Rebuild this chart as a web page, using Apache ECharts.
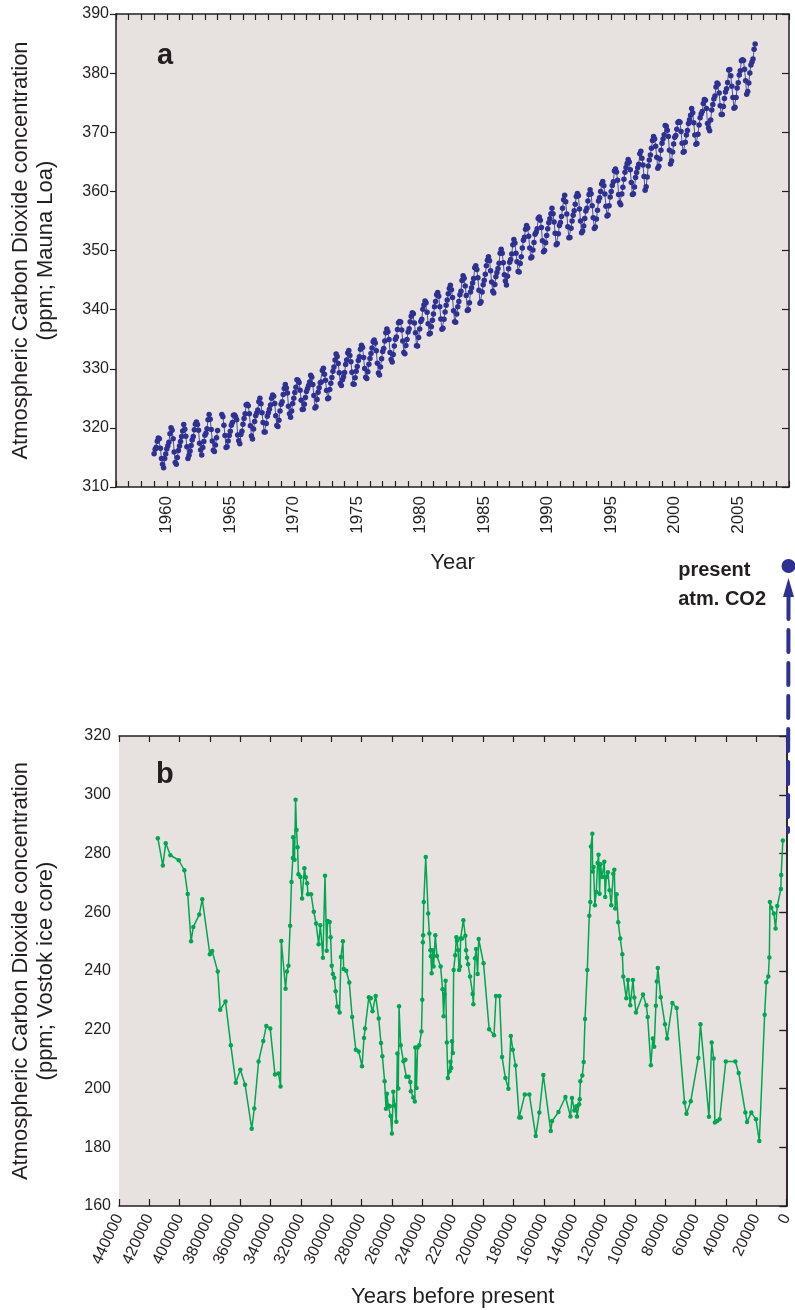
<!DOCTYPE html>
<html>
<head>
<meta charset="utf-8">
<script src="https://cdn.jsdelivr.net/npm/echarts@6/dist/echarts.min.js"></script>
<style>
  html, body { margin: 0; padding: 0; background: #fff; }
  #view { width: 795px; height: 1310px; }
</style>
</head>
<body>
<div id="view"></div>
<script>
// Mauna Loa monthly CO2 (ppm), one row per year, Jan..Dec, starting 1959
var mlStartYear = 1959;
var mlMonthly = [
  [315.62, 316.38, 316.71, 317.72, 318.29, 318.15, 316.54, 314.80, 313.84, 313.26, 314.80, 315.58],
  [316.43, 316.97, 317.58, 319.02, 320.03, 319.59, 318.18, 315.91, 314.16, 313.83, 315.00, 316.19],
  [316.93, 317.70, 318.54, 319.48, 320.58, 319.77, 318.57, 316.79, 314.80, 315.38, 316.10, 317.01],
  [317.94, 318.56, 319.68, 320.63, 321.01, 320.55, 319.58, 317.40, 316.26, 315.42, 316.69, 317.69],
  [318.74, 319.08, 319.86, 321.39, 322.25, 321.47, 319.74, 317.77, 316.21, 315.99, 317.12, 318.31],
  [319.57, null, null, null, 322.25, 321.89, 320.44, 318.70, 316.70, 316.79, 317.79, 318.71],
  [319.44, 320.44, 320.89, 322.13, 322.16, 321.87, 321.39, 318.81, 317.81, 317.30, 318.87, 319.42],
  [320.62, 321.59, 322.39, 323.87, 324.01, 323.75, 322.39, 320.37, 318.64, 318.10, 319.79, 321.08],
  [322.07, 322.50, 323.04, 324.42, 325.00, 324.09, 322.55, 320.92, 319.31, 319.31, 320.72, 321.96],
  [322.57, 323.15, 323.89, 325.02, 325.57, 325.36, 324.14, 322.03, 320.41, 320.25, 321.31, 322.84],
  [324.00, 324.42, 325.64, 326.66, 327.34, 326.76, 325.88, 323.67, 322.38, 321.78, 322.85, 324.11],
  [325.03, 325.99, 326.87, 328.13, 328.07, 327.66, 326.35, 324.69, 323.10, 323.16, 323.98, 325.13],
  [326.17, 326.68, 327.18, 327.78, 328.92, 328.57, 327.34, 325.46, 323.36, 323.57, 324.80, 326.01],
  [326.77, 327.63, 327.75, 329.72, 330.07, 329.09, 328.05, 326.32, 324.93, 325.06, 326.50, 327.55],
  [328.54, 329.56, 330.30, 331.50, 332.48, 332.07, 330.87, 329.31, 327.51, 327.18, 328.16, 328.64],
  [329.35, 330.71, 331.48, 332.65, 333.09, 332.25, 331.18, 329.40, 327.43, 327.37, 328.46, 329.57],
  [330.40, 331.40, 332.04, 333.31, 333.96, 333.59, 331.91, 330.06, 328.56, 328.34, 329.49, 330.76],
  [331.75, 332.56, 333.50, 334.58, 334.87, 334.34, 333.05, 330.94, 329.30, 328.94, 330.31, 331.68],
  [332.93, 333.42, 334.70, 336.07, 336.74, 336.27, 334.93, 332.75, 331.58, 331.16, 332.40, 333.85],
  [334.97, 335.39, 336.64, 337.76, 338.01, 337.89, 336.54, 334.68, 332.76, 332.54, 333.92, 334.95],
  [336.23, 336.76, 337.96, 338.89, 339.47, 339.29, 337.73, 336.09, 333.91, 333.86, 335.29, 336.73],
  [338.01, 338.36, 340.08, 340.77, 341.46, 341.17, 339.56, 337.60, 335.88, 336.01, 337.10, 338.21],
  [339.24, 340.48, 341.38, 342.51, 342.91, 342.25, 340.49, 338.43, 336.69, 336.85, 338.36, 339.61],
  [340.75, 341.61, 342.70, 343.56, 344.13, 343.35, 342.06, 339.82, 337.97, 337.86, 339.26, 340.49],
  [341.38, 342.52, 343.10, 344.94, 345.75, 345.32, 343.99, 342.39, 339.86, 339.99, 341.16, 342.99],
  [343.70, 344.51, 345.28, 347.08, 347.43, 346.79, 345.40, 343.28, 341.07, 341.35, 342.98, 344.22],
  [344.97, 346.00, 347.43, 348.35, 348.93, 348.25, 346.56, 344.69, 343.09, 342.80, 344.24, 345.56],
  [346.29, 346.96, 347.86, 349.55, 350.21, 349.54, 347.94, 345.91, 344.86, 344.17, 345.66, 346.90],
  [348.02, 348.47, 349.42, 350.99, 351.84, 351.25, 349.52, 348.10, 346.44, 346.36, 347.81, 348.96],
  [350.43, 351.72, 352.22, 353.59, 354.22, 353.79, 352.39, 350.44, 348.72, 348.88, 350.07, 351.34],
  [352.76, 353.07, 353.68, 355.42, 355.67, 355.13, 353.90, 351.67, 349.80, 349.99, 351.30, 352.53],
  [353.66, 354.70, 355.39, 356.20, 357.16, 356.22, 354.82, 352.91, 350.96, 351.18, 352.83, 354.21],
  [354.72, 355.75, 357.16, 358.60, 359.34, 358.24, 356.17, 354.03, 352.16, 352.21, 353.75, 354.99],
  [355.98, 356.72, 357.81, 359.15, 359.66, 359.25, 357.02, 355.00, 353.01, 353.31, 354.16, 355.40],
  [356.70, 357.16, 358.38, 359.46, 360.28, 359.60, 357.57, 355.52, 353.70, 353.98, 355.33, 356.80],
  [358.36, 358.91, 359.97, 361.26, 361.68, 360.95, 359.55, 357.49, 355.84, 355.99, 357.58, 359.04],
  [359.96, 361.00, 361.64, 363.45, 363.79, 363.26, 361.90, 359.46, 358.06, 357.75, 359.56, 360.70],
  [362.05, 363.25, 364.03, 364.72, 365.41, 364.97, 363.65, 361.49, 359.46, 359.60, 360.76, 362.33],
  [363.18, 364.00, 364.57, 366.35, 366.79, 365.62, 364.47, 362.51, 360.19, 360.77, 362.43, 364.28],
  [365.32, 366.15, 367.31, 368.61, 369.29, 368.87, 367.64, 365.77, 363.90, 364.23, 365.46, 366.97],
  [368.15, 368.87, 369.59, 371.14, 371.00, 370.35, 369.27, 366.94, 364.63, 365.12, 366.67, 368.01],
  [369.14, 369.46, 370.52, 371.66, 371.82, 371.70, 370.12, 368.12, 366.62, 366.73, 368.29, 369.53],
  [370.28, 371.50, 372.12, 372.87, 374.02, 373.30, 371.62, 369.55, 367.96, 368.09, 369.68, 371.24],
  [372.44, 373.08, 373.52, 374.85, 375.55, 375.40, 374.02, 371.48, 370.70, 370.25, 372.08, 373.78],
  [374.68, 375.63, 376.11, 377.65, 378.35, 378.13, 376.62, 374.50, 372.99, 373.00, 374.35, 375.70],
  [376.79, 377.37, 378.41, 380.52, 380.63, 379.57, 377.79, 375.86, 374.06, 374.24, 375.86, 377.48],
  [378.37, 379.69, 380.41, 382.10, 382.28, 382.13, 380.66, 378.71, 376.42, 376.88, 378.32, 380.04],
  [381.36, 381.87, 382.37, 384.04, 384.91]
];

// Vostok ice core CO2, oldest first
var vostokAge = [
  414400, 411100, 409200, 406100, 400600, 396900, 394700, 392500, 391000, 387100,
  385100, 380100, 378600, 374900, 373300, 369800, 366300, 363000, 360000, 356900,
  352500, 350800, 348000, 344900, 342900, 340300, 337200, 334900, 333500, 333000,
  330200, 329300, 328300, 327200, 326300, 325400, 325200, 324300, 323600, 323000,
  322300, 321700, 320400, 319300, 317800, 316900, 316000, 315400, 313400, 311600,
  310100, 308400, 307300, 305600, 304200, 303100, 302500, 301100, 300500, 299800,
  299000, 298100, 297200, 296200, 294600, 293700, 292400, 291900, 290200, 288200,
  286300, 283900, 282000, 279800, 278500, 277800, 275300, 274000, 272900, 270800,
  268800, 267300, 266400, 264900, 264000, 263400, 262500, 261400, 261000, 260100,
  259200, 258100, 257200, 256500, 255900, 255400, 254300, 252500, 251200, 250600,
  249100, 248000, 247600, 246000, 245000, 244700, 243900, 243200, 242100, 240600,
  240100, 239700, 239500, 239100, 237800, 236200, 235400, 234700, 234400, 233900,
  233200, 232600, 231500, 230400, 228000, 226700, 226000, 225400, 224700, 223900,
  223200, 222100, 221500, 221000, 220500, 219900, 219400, 218400, 217600, 217200,
  216500, 215800, 215200, 214800, 213900, 213000, 211700, 211200, 210600, 209900,
  208600, 206900, 206400, 205300, 204600, 203600, 202900, 199700, 196000, 192800,
  191500, 189200, 187500, 185300, 183300, 181700, 180400, 178600, 176200, 175100,
  172500, 169500, 165300, 162900, 160300, 155400, 154500, 150300, 145700, 142400,
  141400, 139800, 138500, 138100, 136700, 136300, 135900, 134600, 133700, 132800,
  131300, 130000, 129300, 128900, 128000, 127800, 127200, 126300, 125400, 124500,
  123900, 123200, 122600, 121500, 120100, 119500, 118800, 117700, 116600, 115500,
  114200, 113500, 112900, 112000, 110900, 109600, 108200, 107600, 105600, 104500,
  103000, 101200, 100300, 99200, 94600, 92400, 91500, 89400, 88100, 87200,
  86100, 85500, 84800, 82900, 80100, 78700, 75200, 72400, 67200, 65900,
  63100, 58100, 56700, 51100, 49300, 48000, 47200, 45700, 44100, 40000,
  33700, 31500, 27100, 26000, 23200, 20100, 17900, 14400, 13300, 12000,
  11300, 10900, 10000, 8300, 7200, 6100, 3700, 3500, 2400
];
var vostokCO2 = [
  285.2, 275.9, 283.5, 279.4, 277.7, 274.3, 266.2, 250.1, 255.0, 259.2,
  264.4, 245.7, 246.8, 239.8, 226.8, 229.6, 214.7, 202.0, 206.4, 201.3,
  186.3, 193.2, 209.2, 216.2, 221.3, 220.4, 204.8, 205.1, 200.7, 250.2,
  234.0, 239.8, 241.8, 255.4, 270.3, 278.5, 285.5, 277.9, 298.3, 288.0,
  282.1, 272.9, 272.0, 264.7, 275.0, 271.9, 269.9, 266.1, 266.1, 260.2,
  256.2, 249.1, 255.6, 244.5, 272.4, 246.9, 257.0, 256.7, 251.5, 241.8,
  239.0, 237.7, 233.1, 227.9, 225.9, 244.8, 250.1, 240.7, 240.1, 236.1,
  224.3, 213.2, 212.6, 207.6, 217.2, 220.4, 231.1, 230.7, 226.3, 231.5,
  223.8, 215.5, 211.0, 202.5, 193.1, 198.2, 194.2, 194.0, 190.6, 184.7,
  198.9, 194.2, 188.7, 211.9, 200.0, 228.0, 214.7, 209.3, 209.8, 204.0,
  204.0, 202.2, 199.1, 196.9, 195.6, 214.0, 200.2, 214.0, 214.7, 219.4,
  230.2, 249.8, 252.2, 263.5, 278.8, 259.6, 252.8, 247.1, 245.0, 239.2,
  247.1, 241.5, 252.2, 245.1, 241.5, 233.8, 224.6, 232.2, 236.7, 215.7,
  203.6, 205.9, 209.1, 207.0, 216.1, 212.1, 240.3, 245.4, 251.5, 250.3,
  247.1, 240.3, 241.5, 251.1, 251.1, 257.3, 252.0, 247.1, 244.5, 242.3,
  238.1, 232.2, 228.7, 244.3, 247.5, 239.0, 250.9, 242.6, 220.2, 218.1,
  231.5, 231.5, 210.7, 203.6, 199.9, 217.9, 213.2, 207.8, 190.1, 190.1,
  198.0, 198.0, 183.8, 191.8, 204.6, 185.5, 188.9, 192.0, 197.1, 190.5,
  196.8, 192.5, 194.0, 190.5, 194.6, 196.3, 202.5, 204.4, 209.0, 223.7,
  240.3, 258.8, 263.5, 282.4, 286.7, 273.9, 275.4, 262.4, 266.9, 276.8,
  279.6, 266.3, 276.3, 272.0, 277.2, 265.2, 272.0, 273.6, 267.5, 262.4,
  273.1, 274.5, 261.3, 266.1, 256.6, 251.1, 245.7, 238.1, 230.7, 236.9,
  228.3, 236.9, 231.0, 225.9, 232.0, 228.3, 224.3, 207.9, 217.0, 214.2,
  228.2, 236.4, 241.0, 231.1, 221.9, 217.0, 229.1, 227.4, 195.2, 191.4,
  195.7, 210.4, 221.9, 190.4, 215.7, 210.2, 188.4, 188.9, 189.5, 209.2,
  209.2, 205.3, 191.8, 188.6, 191.8, 189.5, 182.1, 225.1, 236.2, 238.1,
  244.6, 263.5, 261.5, 259.6, 254.5, 262.1, 267.9, 272.7, 284.4
];

var FONT = '"Liberation Sans", Arial, Helvetica, sans-serif';
var INK = '#231f20';
var PLOT_BG = '#e7e2e0';
var BLUE = '#2e3192';
var GREEN = '#00a651';

var mlData = [];
mlMonthly.forEach(function (row, i) {
  row.forEach(function (v, m) {
    mlData.push([mlStartYear + i + m / 12, v == null ? '-' : v]);
  });
});
var vostokData = vostokAge.map(function (a, i) { return [a, vostokCO2[i]]; });

var lineSty = { color: INK, width: 1.5 };
var tickSty = { color: INK, width: 1.2 };
var labelSty = { fontSize: 16, color: INK, fontFamily: FONT };
var nameSty = { fontSize: 22, color: INK, fontFamily: FONT, lineHeight: 25 };

var option = {
  animation: false,
  backgroundColor: '#fff',
  title: [
    { text: 'a', left: 152, top: 36, textStyle: { fontSize: 29, fontWeight: 'bold', color: INK, fontFamily: FONT } },
    { text: 'b', left: 151, top: 755, textStyle: { fontSize: 29, fontWeight: 'bold', color: INK, fontFamily: FONT } }
  ],
  grid: [
    { left: 114, top: 14, width: 675, height: 473, show: true, backgroundColor: PLOT_BG, borderWidth: 0 },
    { left: 117, top: 736, width: 671, height: 471, show: true, backgroundColor: PLOT_BG, borderWidth: 0 }
  ],
  xAxis: [
    {
      gridIndex: 0, type: 'value', min: 1956, max: 2009, interval: 1, position: 'bottom',
      name: 'Year', nameLocation: 'middle', nameGap: 63, nameTextStyle: nameSty,
      axisLine: { lineStyle: lineSty }, axisTick: { inside: true, length: 6, lineStyle: tickSty },
      axisLabel: {
        rotate: 90, margin: 9, fontSize: 17, color: INK, fontFamily: FONT,
        formatter: function (v) { return v % 5 === 0 ? String(v) : ''; }
      },
      splitLine: { show: false }
    },
    {
      gridIndex: 0, type: 'value', min: 1956, max: 2009, interval: 1, position: 'top',
      axisLine: { lineStyle: lineSty }, axisTick: { inside: true, length: 6, lineStyle: tickSty },
      axisLabel: { show: false }, splitLine: { show: false }
    },
    {
      gridIndex: 1, type: 'value', min: 0, max: 440000, interval: 20000, inverse: true, position: 'bottom',
      name: 'Years before present', nameLocation: 'middle', nameGap: 78, nameTextStyle: nameSty,
      axisLine: { lineStyle: lineSty }, axisTick: { inside: true, length: 7, lineStyle: tickSty },
      axisLabel: {
        rotate: 65, margin: 9, fontSize: 16, color: INK, fontFamily: FONT,
        showMinLabel: true, showMaxLabel: true,
        formatter: function (v) { return String(v); }
      },
      splitLine: { show: false }
    },
    {
      gridIndex: 1, type: 'value', min: 0, max: 440000, interval: 20000, inverse: true, position: 'top',
      axisLine: { lineStyle: lineSty }, axisTick: { inside: true, length: 6, lineStyle: tickSty },
      axisLabel: { show: false }, splitLine: { show: false }
    }
  ],
  yAxis: [
    {
      gridIndex: 0, type: 'value', min: 310, max: 390, interval: 10, position: 'left',
      name: 'Atmospheric Carbon Dioxide concentration\n(ppm; Mauna Loa)',
      nameLocation: 'middle', nameGap: 58, nameRotate: 90, nameTextStyle: nameSty,
      axisLine: { lineStyle: lineSty }, axisTick: { inside: false, length: 6, lineStyle: tickSty },
      axisLabel: Object.assign({ margin: 7 }, labelSty), splitLine: { show: false }
    },
    {
      gridIndex: 0, type: 'value', min: 310, max: 390, interval: 10, position: 'right',
      axisLine: { lineStyle: lineSty }, axisTick: { inside: true, length: 7, lineStyle: tickSty },
      axisLabel: { show: false }, splitLine: { show: false }
    },
    {
      gridIndex: 1, type: 'value', min: 160, max: 320, interval: 20, position: 'left',
      name: 'Atmospheric Carbon Dioxide concentration\n(ppm; Vostok ice core)',
      nameLocation: 'middle', nameGap: 61, nameRotate: 90, nameTextStyle: nameSty,
      axisLine: { lineStyle: lineSty }, axisTick: { inside: false, length: 7, lineStyle: tickSty },
      axisLabel: Object.assign({ margin: 8 }, labelSty), splitLine: { show: false }
    },
    {
      gridIndex: 1, type: 'value', min: 160, max: 320, interval: 20, position: 'right',
      axisLine: { lineStyle: lineSty }, axisTick: { inside: true, length: 7, lineStyle: tickSty },
      axisLabel: { show: false }, splitLine: { show: false }
    }
  ],
  series: [
    {
      name: 'Mauna Loa', type: 'line', xAxisIndex: 0, yAxisIndex: 0,
      data: mlData, symbol: 'circle', symbolSize: 5.5, showAllSymbol: true,
      lineStyle: { color: '#4a4fa6', width: 1 }, itemStyle: { color: BLUE },
      emphasis: { disabled: true }
    },
    {
      name: 'Vostok', type: 'line', xAxisIndex: 2, yAxisIndex: 2,
      data: vostokData, symbol: 'circle', symbolSize: 4.5, showAllSymbol: true,
      lineStyle: { color: GREEN, width: 1.5 }, itemStyle: { color: GREEN },
      emphasis: { disabled: true }
    }
  ],
  // "present atm. CO2" pointer between the two panels
  graphic: [
    {
      type: 'line', z: 100,
      shape: { x1: 788.5, y1: 597, x2: 788, y2: 832 },
      style: { stroke: BLUE, lineWidth: 4, lineDash: [22, 11], lineCap: 'round' }
    },
    {
      type: 'polygon', z: 100,
      shape: { points: [[783, 597], [788.5, 578], [794, 597]] },
      style: { fill: BLUE }
    },
    {
      type: 'circle', z: 101,
      shape: { cx: 788.5, cy: 566, r: 7 },
      style: { fill: BLUE }
    },
    {
      type: 'text', z: 100, right: 29, top: 556,
      style: {
        text: 'present\natm. CO2', fill: INK, font: 'bold 20px ' + FONT,
        align: 'right', lineHeight: 29
      }
    }
  ]
};

echarts.init(document.getElementById('view')).setOption(option);
</script>
</body>
</html>
